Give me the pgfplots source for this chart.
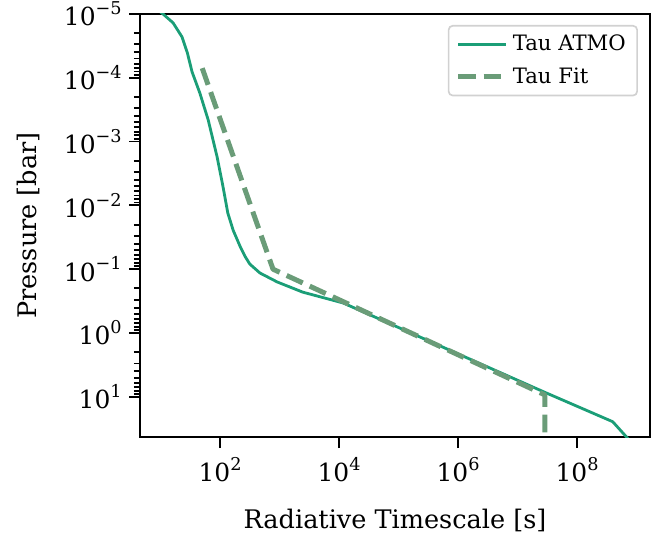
\documentclass[border=0pt]{standalone}
\usepackage{fontspec}
\setmainfont{DejaVu Serif}
\usepackage{pgfplots}
\pgfplotsset{compat=1.18}
\definecolor{atmo}{HTML}{1B9E77}
\definecolor{fit}{HTML}{6A9C78}
\newcommand{\tl}[1]{{\fontsize{12}{14}\selectfont 10\raisebox{5.4pt}{\fontsize{8.5}{10}\selectfont #1}}}
\begin{document}
\begin{tikzpicture}
\begin{axis}[name=ax, scale only axis, width=245.4pt, height=203.6pt,
  xmode=log, ymode=log, y dir=reverse,
  xmin=4.52, xmax=1.687e9, ymin=1e-5, ymax=42.66,
  axis line style={line width=1pt},
  tick align=outside, xtick pos=bottom, ytick pos=left,
  major tick length=5.3pt, minor tick length=3pt,
  every tick/.style={black, line width=0.9pt},
  xtick={1e2,1e4,1e6,1e8},
  xticklabels={\tl{2},\tl{4},\tl{6},\tl{8}},
  xminorticks=false,
  ytick={1e-5,1e-4,1e-3,1e-2,1e-1,1e0,1e1},
  yticklabels={\tl{−5},\tl{−4},\tl{−3},\tl{−2},\tl{−1},\tl{0},\tl{1}},
  xticklabel style={yshift=-1pt},
  every axis x label/.style={at={(axis description cs:0.5,-0.1965)}, anchor=center},
  every axis y label/.style={at={(axis description cs:-0.2196,0.5)}, anchor=center, rotate=90},
  label style={font=\fontsize{12.3}{15}\selectfont},
  xlabel={Radiative Timescale [s]},
  ylabel={Pressure [bar]},
  clip=true,
  legend style={at={(1,1)}, anchor=north east, xshift=-5.8pt, yshift=-5.3pt,
    draw=black!18, line width=0.8pt, rounded corners=2pt, fill=white,
    font=\fontsize{10.2}{12}\selectfont, inner xsep=3.5pt, inner ysep=2.5pt,
    row sep=2.5pt},
  legend cell align=left,
  legend image code/.code={\draw[#1] (0pt,0pt) -- (23pt,0pt);},
]
\addplot[atmo, line width=1.35pt, line join=round] coordinates {
 (7.943,7.943e-6) (10.96,1e-5) (16.22,1.380e-5) (22.91,2.291e-5)
 (28.18,4.074e-5) (33.88,8.128e-5) (45.71,1.738e-4) (63.10,4.571e-4)
 (89.13,1.738e-3) (112.2,5.129e-3) (134.9,1.318e-2) (166.0,2.455e-2)
 (218.8,4.467e-2) (263.0,6.310e-2) (316.2,8.318e-2) (467.7,0.1148)
 (912.0,0.1585) (2455,0.2291) (11750,0.3388) (1.202e6,2.291)
 (2.884e7,8.511) (3.981e8,24.55) (7.943e8,50.12)
};
\addlegendentry{Tau ATMO}
\addplot[fit, line width=2.4pt, dash pattern=on 8.5pt off 3.7pt, line join=round] coordinates {
 (50.12,7.079e-5) (776.2,0.1) (2.884e7,9.333) (2.884e7,1000)
};
\addlegendentry{Tau Fit}
\end{axis}
\pgfresetboundingbox
\path[use as bounding box] ([xshift=-67.4pt,yshift=-48.6pt]ax.south west) rectangle ([xshift=7.2pt,yshift=6.7pt]ax.north east);
\end{tikzpicture}
\end{document}
